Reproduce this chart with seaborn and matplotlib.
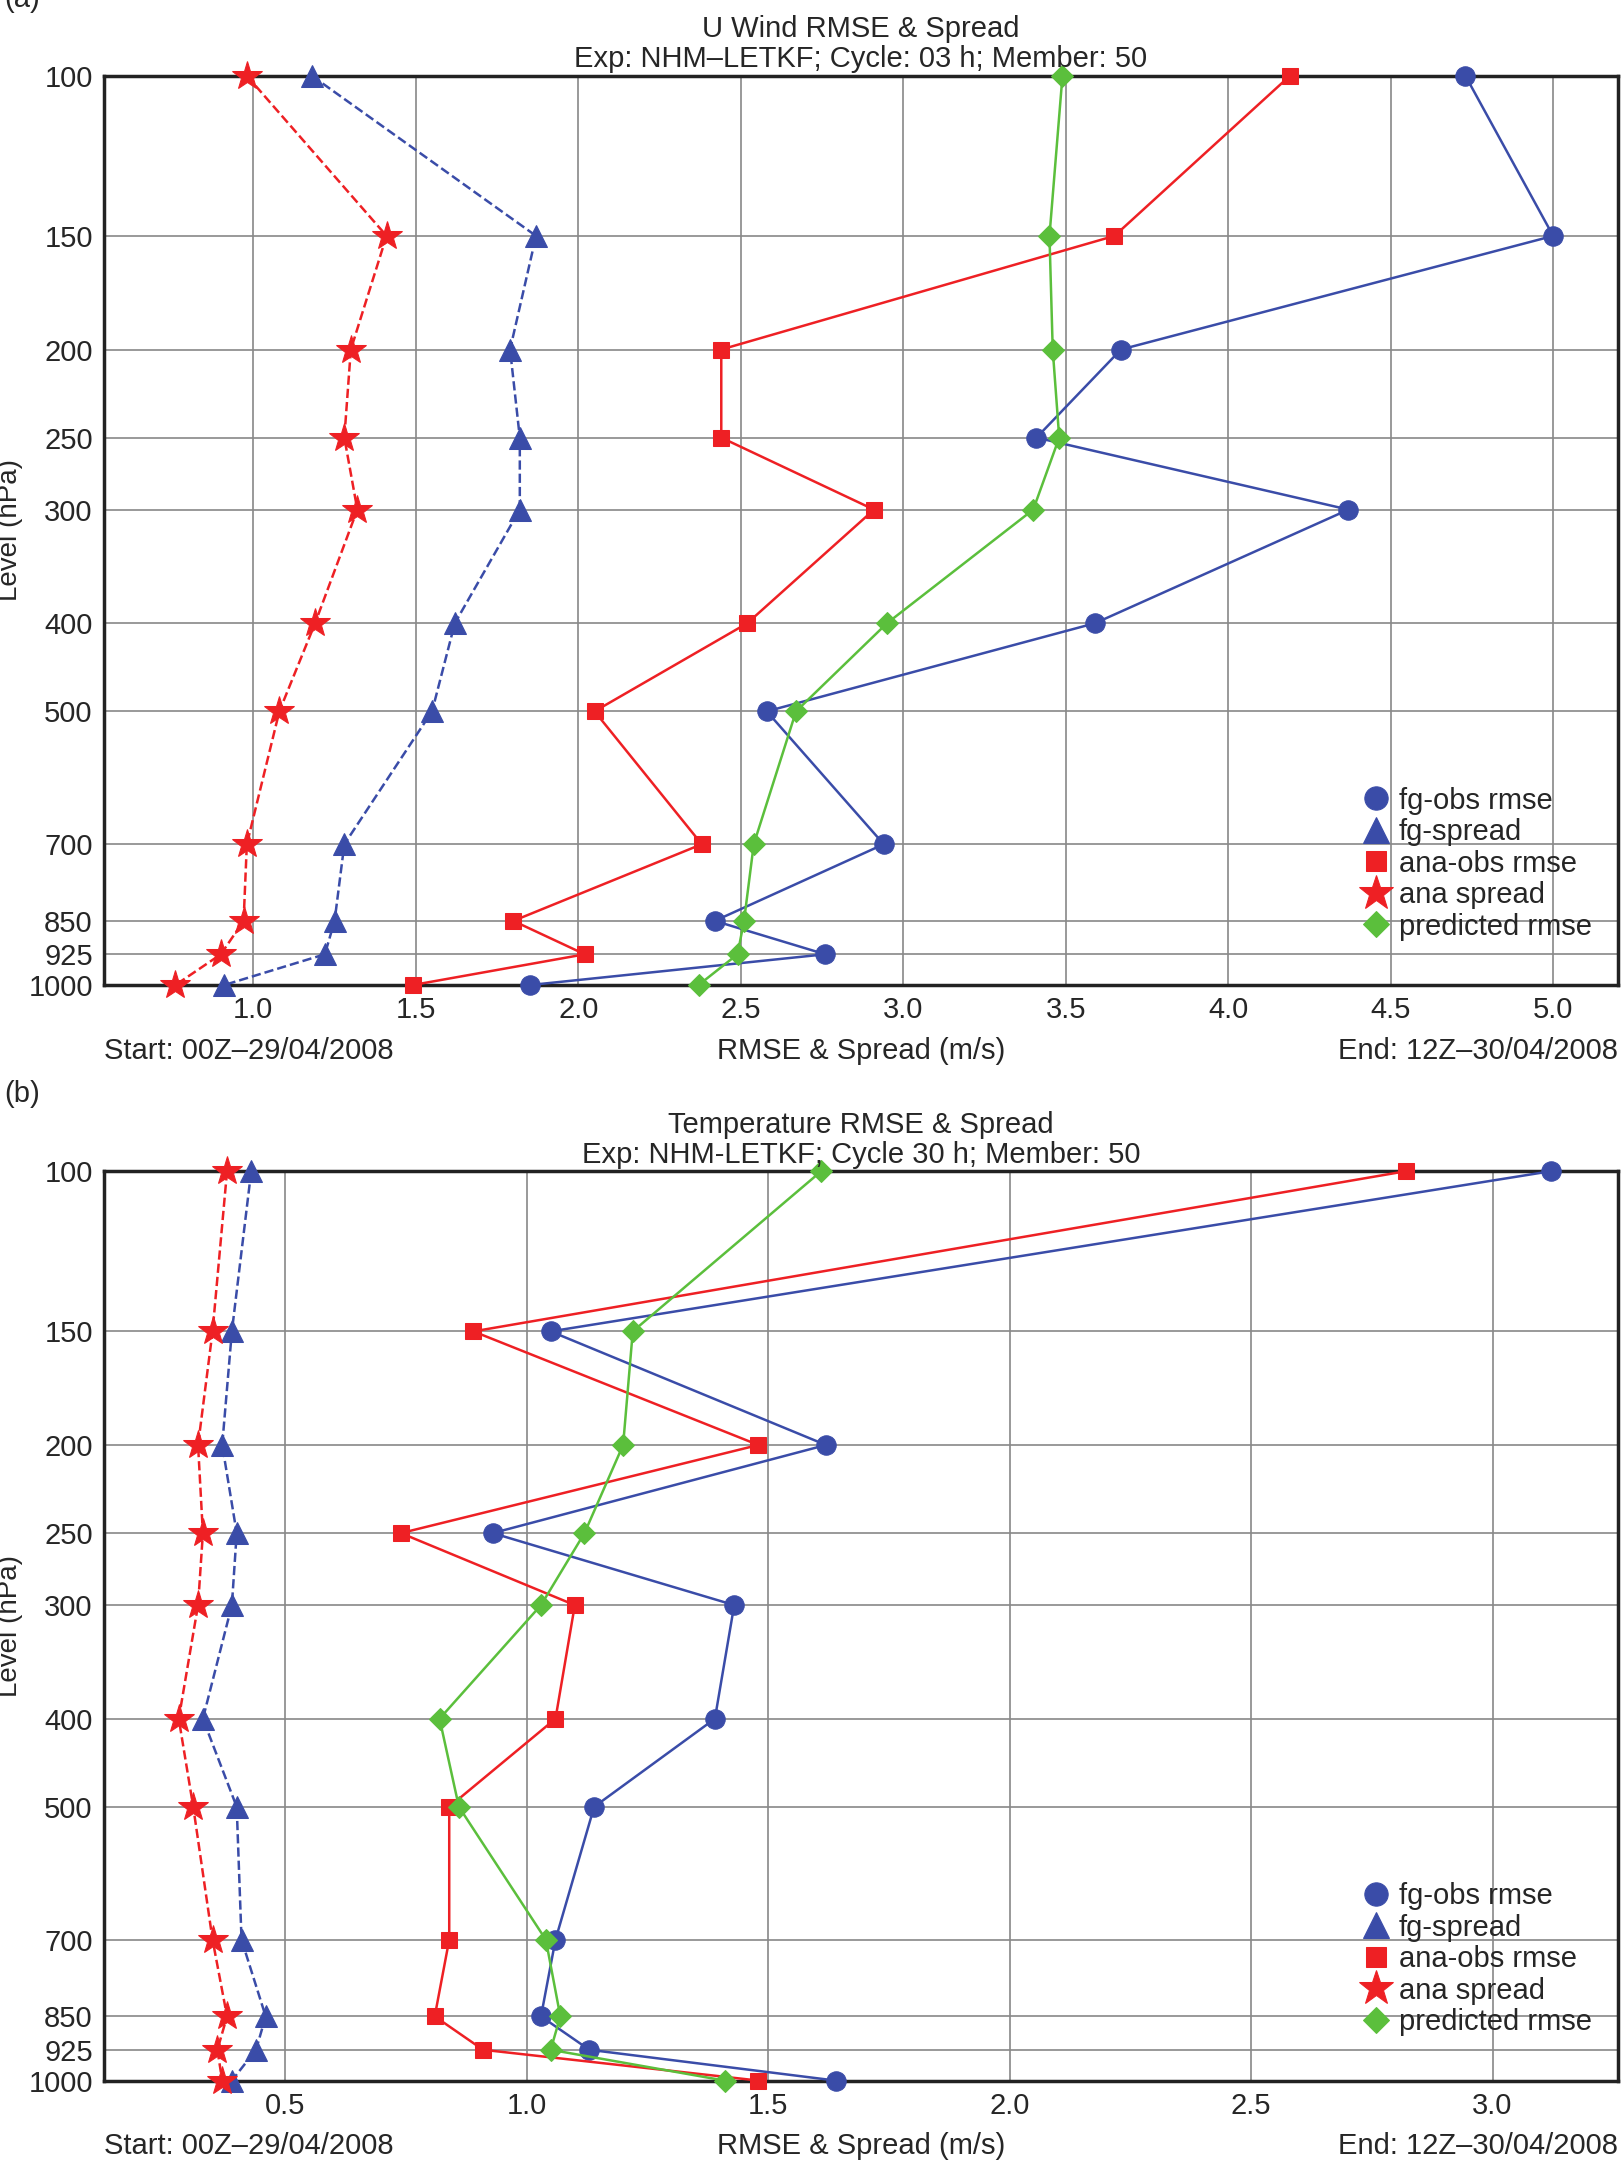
import numpy as np
import pandas as pd
import seaborn as sns
from matplotlib import pyplot as plt

levels = [100, 150, 200, 250, 300, 400, 500, 700, 850, 925, 1000]

# panel (a) U wind
u_fg_rmse = [4.73, 5.00, 3.67, 3.41, 4.37, 3.59, 2.58, 2.94, 2.42, 2.76, 1.85]
u_fg_spread = [1.18, 1.87, 1.79, 1.82, 1.82, 1.62, 1.55, 1.28, 1.25, 1.22, 0.91]
u_ana_rmse = [4.19, 3.65, 2.44, 2.44, 2.91, 2.52, 2.05, 2.38, 1.80, 2.02, 1.49]
u_ana_spread = [0.98, 1.41, 1.30, 1.28, 1.32, 1.19, 1.08, 0.98, 0.97, 0.90, 0.76]
u_pred_rmse = [3.49, 3.45, 3.46, 3.48, 3.40, 2.95, 2.67, 2.54, 2.51, 2.49, 2.37]

# panel (b) temperature
t_fg_rmse = [3.12, 1.05, 1.62, 0.93, 1.43, 1.39, 1.14, 1.06, 1.03, 1.13, 1.64]
t_fg_spread = [0.43, 0.39, 0.37, 0.40, 0.39, 0.33, 0.40, 0.41, 0.46, 0.44, 0.39]
t_ana_rmse = [2.82, 0.89, 1.48, 0.74, 1.10, 1.06, 0.84, 0.84, 0.81, 0.91, 1.48]
t_ana_spread = [0.38, 0.35, 0.32, 0.33, 0.32, 0.28, 0.31, 0.35, 0.38, 0.36, 0.37]
t_pred_rmse = [1.61, 1.22, 1.20, 1.12, 1.03, 0.82, 0.86, 1.04, 1.07, 1.05, 1.41]

BLUE = '#3a4ca8'
RED = '#ee2024'
GREEN = '#5bbf3c'
styles = [
    ('fg-obs rmse', BLUE, 'o', '-', 14),
    ('fg-spread', BLUE, '^', '--', 16),
    ('ana-obs rmse', RED, 's', '-', 12),
    ('ana spread', RED, '*', '--', 22),
    ('predicted rmse', GREEN, 'D', '-', 11),
]

sns.set_style('white')
plt.rcParams['font.family'] = ['Liberation Sans', 'DejaVu Sans']
FS = 21

fig = plt.figure(figsize=(16.23, 21.65), dpi=100)
ax_a = fig.add_axes([0.064, 0.545, 0.933, 0.42])
ax_b = fig.add_axes([0.064, 0.039, 0.933, 0.42])


def draw_panel(ax, series, xlim, xticks, title, tag):
    for (name, color, marker, ls, ms), vals in zip(styles, series):
        df = pd.DataFrame({'x': vals, 'level': levels})
        sns.lineplot(data=df, x='x', y='level', sort=False, estimator=None,
                     ax=ax, color=color, linestyle=ls, lw=1.8, marker=marker,
                     markersize=ms, markeredgecolor=color, label=name,
                     clip_on=False, zorder=3)
    ax.set_yscale('log')
    ax.set_ylim(1000, 100)
    ax.set_yticks(levels)
    ax.set_yticklabels([str(l) for l in levels])
    ax.minorticks_off()
    ax.set_xlim(*xlim)
    ax.set_xticks(xticks)
    ax.set_xticklabels([f'{t:.1f}' for t in xticks])
    ax.grid(True, color='#888888', lw=1.2)
    for s in ax.spines.values():
        s.set_linewidth(2.5)
        s.set_color('#222222')
    ax.tick_params(labelsize=FS, length=0, pad=8)
    ax.set_xlabel('')
    ax.set_ylabel('Level (hPa)', fontsize=FS - 1, labelpad=4)
    ax.set_title(title, fontsize=FS, pad=6, linespacing=1.1)
    for xpos, ha, txt in [(0.0, 'left', 'Start: 00Z\u201329/04/2008'),
                          (0.5, 'center', 'RMSE & Spread (m/s)'),
                          (1.0, 'right', 'End: 12Z\u201330/04/2008')]:
        ax.text(xpos, -0.057, txt, transform=ax.transAxes,
                fontsize=FS, va='top', ha=ha)
    ax.text(-0.066, 1.1, tag, transform=ax.transAxes, fontsize=FS, va='top')
    leg = ax.legend(loc='lower right', bbox_to_anchor=(1.0, 0.02), frameon=False,
                    fontsize=FS, handletextpad=0.3, labelspacing=0.12,
                    handlelength=1.0, markerscale=1.2)
    for h in leg.legend_handles:
        h.set_linestyle('none')


draw_panel(ax_a, [u_fg_rmse, u_fg_spread, u_ana_rmse, u_ana_spread, u_pred_rmse],
           (0.54, 5.2), [1.0, 1.5, 2.0, 2.5, 3.0, 3.5, 4.0, 4.5, 5.0],
           'U Wind RMSE & Spread\nExp: NHM\u2013LETKF; Cycle: 03 h; Member: 50', '(a)')
draw_panel(ax_b, [t_fg_rmse, t_fg_spread, t_ana_rmse, t_ana_spread, t_pred_rmse],
           (0.125, 3.26), [0.5, 1.0, 1.5, 2.0, 2.5, 3.0],
           'Temperature RMSE & Spread\nExp: NHM-LETKF; Cycle 30 h; Member: 50', '(b)')

fig.savefig('out.png', dpi=100)
